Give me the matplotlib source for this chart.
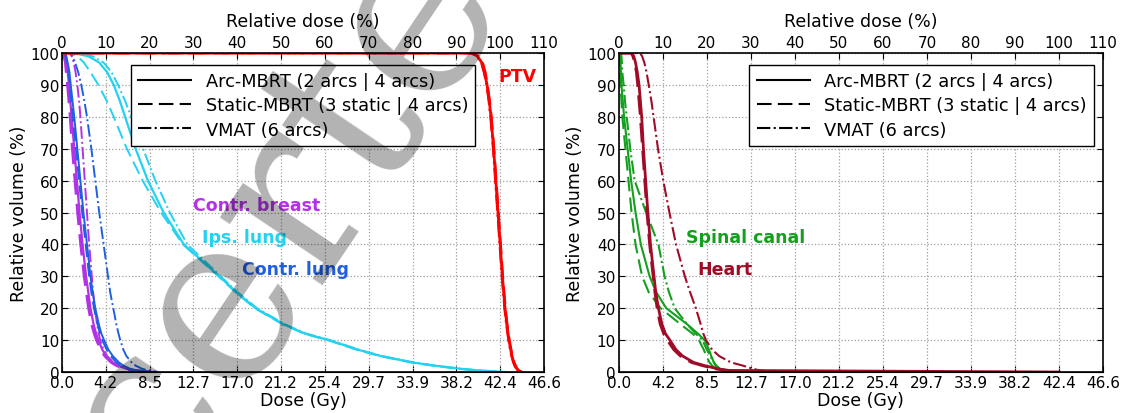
import matplotlib
matplotlib.use("Agg")
import matplotlib.pyplot as plt
from matplotlib.lines import Line2D
from matplotlib.ticker import FormatStrFormatter

# prescription dose (Gy) = 100 % relative dose
presc = 42.4

# volume levels (%) at which the dose (% of prescription) is read for each DVH curve
vol = [100, 99, 97, 94, 90, 85, 80, 70, 60, 50, 40, 30, 25, 20, 15, 12, 10, 7, 5, 3, 2, 1, 0.5, 0]

# left panel
ptv_arc = [93.5, 94.8, 95.8, 96.4, 97.0, 97.5, 97.9, 98.5, 99.0, 99.5, 100.0, 100.5, 100.8, 101.1, 101.5, 101.8, 102.0, 102.4, 102.7, 103.1, 103.4, 103.8, 104.1, 104.8]
ptv_static = [93.7, 95.0, 96.0, 96.6, 97.1, 97.6, 98.0, 98.6, 99.1, 99.6, 100.1, 100.6, 100.9, 101.2, 101.6, 101.9, 102.1, 102.5, 102.8, 103.2, 103.5, 103.9, 104.2, 104.9]
ptv_vmat = [93.4, 94.7, 95.7, 96.3, 96.9, 97.4, 97.8, 98.4, 98.9, 99.4, 99.9, 100.4, 100.7, 101.0, 101.4, 101.7, 101.9, 102.3, 102.6, 103.0, 103.3, 103.7, 104.0, 104.6]

ipsl_arc = [2.5, 6.0, 8.5, 10.3, 11.8, 13.2, 14.4, 16.8, 19.6, 23.2, 27.8, 35.9, 39.8, 44.2, 50.5, 55.5, 60.9, 67.5, 72.8, 80.0, 85.0, 91.0, 95.0, 101.0]
ipsl_static = [2.0, 3.5, 5.0, 6.5, 8.3, 10.2, 11.8, 14.8, 18.4, 22.6, 27.6, 35.7, 39.6, 44.0, 50.3, 55.3, 60.6, 67.2, 72.5, 79.6, 84.6, 90.5, 94.5, 100.5]
ipsl_vmat = [3.5, 7.0, 9.5, 11.3, 12.8, 14.4, 15.8, 18.5, 21.3, 24.6, 28.6, 36.2, 40.1, 44.5, 50.8, 55.8, 61.2, 67.8, 73.0, 80.3, 85.3, 91.3, 95.3, 101.5]

cbreast_arc = [0.5, 0.7, 1.0, 1.3, 1.6, 1.9, 2.2, 2.8, 3.4, 4.0, 4.7, 5.5, 6.0, 6.5, 7.2, 7.8, 8.3, 9.2, 10.1, 11.6, 12.8, 14.8, 16.8, 21.0]
cbreast_static = [0.3, 0.5, 0.8, 1.0, 1.3, 1.6, 1.9, 2.4, 3.0, 3.6, 4.3, 5.1, 5.6, 6.1, 6.8, 7.4, 7.9, 8.9, 9.8, 11.3, 12.5, 14.5, 16.4, 20.0]
cbreast_vmat = [1.8, 2.2, 2.7, 3.1, 3.5, 3.9, 4.2, 4.7, 5.2, 5.7, 6.2, 6.8, 7.1, 7.5, 8.0, 8.4, 8.7, 9.5, 10.3, 11.7, 12.8, 14.8, 16.5, 20.0]

clung_arc = [0.8, 1.0, 1.3, 1.7, 2.0, 2.4, 2.8, 3.5, 4.2, 4.9, 5.7, 6.5, 7.0, 7.6, 8.4, 9.0, 9.6, 10.6, 11.6, 13.0, 14.0, 15.6, 17.0, 20.0]
clung_static = [0.6, 0.8, 1.1, 1.5, 1.8, 2.1, 2.5, 3.2, 3.9, 4.6, 5.4, 6.2, 6.7, 7.3, 8.1, 8.7, 9.2, 10.2, 11.1, 12.4, 13.4, 15.0, 16.3, 19.0]
clung_vmat = [2.0, 2.4, 3.0, 3.7, 4.4, 5.1, 5.7, 6.7, 7.6, 8.5, 9.5, 10.5, 11.0, 11.7, 12.4, 12.9, 13.3, 14.0, 14.7, 15.9, 16.8, 18.3, 19.6, 22.0]

# right panel
heart_arc = [3.0, 3.4, 3.8, 4.2, 4.6, 4.9, 5.2, 5.6, 6.1, 6.6, 7.2, 8.0, 8.4, 9.0, 9.8, 10.6, 11.6, 13.0, 14.5, 17.0, 19.5, 22.5, 25.0, 100.0]
heart_static = [2.8, 3.2, 3.6, 4.0, 4.3, 4.6, 4.9, 5.4, 5.9, 6.4, 7.0, 7.8, 8.2, 8.7, 9.4, 10.2, 11.0, 12.5, 14.0, 16.5, 19.0, 22.0, 24.5, 30.0]
heart_vmat = [4.8, 5.3, 5.8, 6.3, 6.8, 7.4, 7.9, 8.9, 10.1, 11.5, 13.0, 15.0, 16.2, 17.5, 18.6, 19.2, 19.8, 21.2, 22.8, 25.5, 28.2, 30.5, 32.0, 35.0]

spinal_arc = [0.3, 0.35, 0.4, 0.5, 0.6, 0.9, 1.2, 2.0, 2.8, 3.8, 5.0, 7.0, 8.5, 10.8, 15.5, 18.0, 19.5, 20.5, 21.0, 21.6, 22.0, 22.8, 23.5, 25.0]
spinal_static = [0.2, 0.22, 0.25, 0.3, 0.4, 0.6, 0.8, 1.5, 2.2, 2.9, 3.8, 5.3, 6.8, 9.5, 14.0, 16.8, 18.2, 19.3, 19.9, 20.6, 21.2, 22.0, 23.0, 24.0]
spinal_vmat = [0.5, 0.6, 0.7, 0.8, 1.1, 1.4, 1.8, 2.6, 3.6, 6.2, 9.0, 10.4, 11.4, 12.7, 15.5, 17.5, 19.0, 20.0, 20.8, 21.6, 22.2, 23.0, 23.8, 25.0]

c_ptv = "#ff0000"
c_ipsl = "#22d2f0"
c_cbreast = "#b432e6"
c_clung = "#2060e0"
c_heart = "#a00c28"
c_spinal = "#14a01e"

dashed = (7, 3)


def dvh(ax, doses, color, style, lw):
    x = [0] + doses
    y = [100] + vol
    if style == "--":
        ax.plot(x, y, color=color, lw=lw, dashes=dashed)
    else:
        ax.plot(x, y, color=color, lw=lw, ls=style)


def setup(ax):
    ax.set_xlim(0, 110)
    ax.set_ylim(0, 100)
    ax.xaxis.set_ticks_position("top")
    ax.xaxis.set_label_position("top")
    ax.set_xticks(range(0, 111, 10))
    ax.set_yticks(range(0, 101, 10))
    ax.set_xlabel("Relative dose (%)", fontsize=12.5, labelpad=7)
    ax.set_ylabel("Relative volume (%)", fontsize=12.5, labelpad=2)
    ax.tick_params(direction="in", labelsize=11, length=4, right=True, pad=2)
    ax.grid(True, ls=":", color="#a0a0a0", lw=0.9)
    sec = ax.secondary_xaxis("bottom", functions=(lambda p: p * presc / 100, lambda g: g * 100 / presc))
    sec.set_xticks([i * presc / 10 for i in range(12)])
    sec.xaxis.set_major_formatter(FormatStrFormatter("%.1f"))
    sec.tick_params(direction="in", labelsize=11, length=4, pad=2)
    sec.set_xlabel("Dose (Gy)", fontsize=12.5, labelpad=1)
    for s in ax.spines.values():
        s.set_linewidth(1.2)


def add_legend(ax, loc, anchor):
    handles = [Line2D([], [], color="k", lw=1.5, ls="-"),
               Line2D([], [], color="k", lw=1.5, dashes=dashed),
               Line2D([], [], color="k", lw=1.5, ls="-.")]
    labels = ["Arc-MBRT (2 arcs | 4 arcs)", "Static-MBRT (3 static | 4 arcs)", "VMAT (6 arcs)"]
    leg = ax.legend(handles, labels, loc=loc, bbox_to_anchor=anchor, borderaxespad=0,
                    fontsize=12.8, handlelength=3.0, labelspacing=0.35, fancybox=False,
                    framealpha=1, edgecolor="k")
    leg.get_frame().set_linewidth(1.0)
    leg.set_zorder(5)


fig = plt.figure(figsize=(11.21, 4.14), dpi=100)
ax1 = fig.add_axes([0.0553, 0.099, 0.430, 0.7705])
ax2 = fig.add_axes([0.552, 0.099, 0.432, 0.7705])

for ax in (ax1, ax2):
    setup(ax)

# left panel curves
dvh(ax1, cbreast_static, c_cbreast, "--", 2.2)
dvh(ax1, cbreast_arc, c_cbreast, "-", 1.6)
dvh(ax1, cbreast_vmat, c_cbreast, "-.", 1.4)
dvh(ax1, clung_static, c_clung, "--", 1.4)
dvh(ax1, clung_arc, c_clung, "-", 1.4)
dvh(ax1, clung_vmat, c_clung, "-.", 1.4)
dvh(ax1, ipsl_static, c_ipsl, "--", 1.4)
dvh(ax1, ipsl_vmat, c_ipsl, "-.", 1.4)
dvh(ax1, ipsl_arc, c_ipsl, "-", 1.6)
dvh(ax1, ptv_static, c_ptv, "--", 1.8)
dvh(ax1, ptv_vmat, c_ptv, "-.", 1.8)
dvh(ax1, ptv_arc, c_ptv, "-", 2.0)

# right panel curves
dvh(ax2, spinal_static, c_spinal, "--", 1.5)
dvh(ax2, spinal_arc, c_spinal, "-", 1.5)
dvh(ax2, spinal_vmat, c_spinal, "-.", 1.5)
dvh(ax2, heart_static, c_heart, "--", 2.0)
dvh(ax2, heart_arc, c_heart, "-", 2.0)
dvh(ax2, heart_vmat, c_heart, "-.", 1.5)

bold = dict(fontsize=12.5, fontweight="bold", va="center", ha="left")
ax1.text(99.5, 92.8, "PTV", color=c_ptv, **bold)
ax1.text(30.0, 52.5, "Contr. breast", color=c_cbreast, **bold)
ax1.text(32.0, 42.3, "Ips. lung", color=c_ipsl, **bold)
ax1.text(41.0, 32.3, "Contr. lung", color=c_clung, **bold)
ax2.text(15.2, 42.3, "Spinal canal", color=c_spinal, **bold)
ax2.text(17.9, 32.3, "Heart", color=c_heart, **bold)

add_legend(ax1, "upper left", (0.143, 0.962))
add_legend(ax2, "upper right", (0.981, 0.962))

# semi-transparent watermark over the figure
fig.text(0.25, 0.48, "certe", rotation=56, fontsize=170, family="DejaVu Serif",
         color="k", alpha=0.3, ha="center", va="center", zorder=10)

fig.savefig("out.png", dpi=100)
